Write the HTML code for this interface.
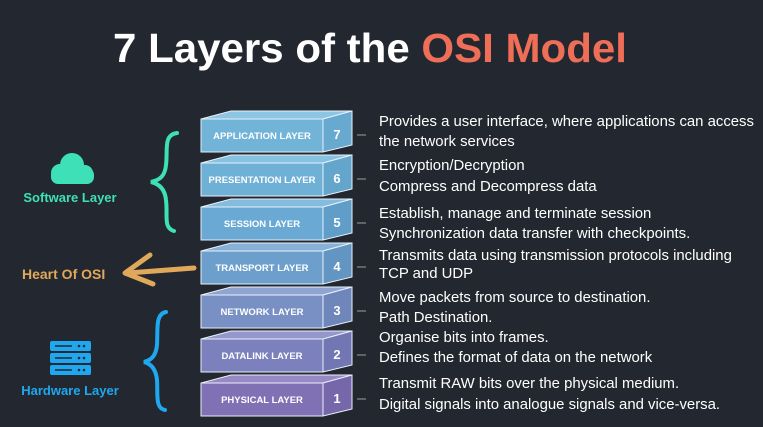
<!DOCTYPE html>
<html><head><meta charset="utf-8"><style>
html,body{margin:0;padding:0;background:#23272f;}
svg{display:block}
</style></head><body>
<svg width="763" height="427" viewBox="0 0 763 427" xmlns="http://www.w3.org/2000/svg" font-family="Liberation Sans, sans-serif">
<rect width="763" height="427" fill="#23272f"/>
<text x="113" y="62" textLength="514" lengthAdjust="spacingAndGlyphs" font-size="41" font-weight="bold" fill="#fff">7 Layers of  the <tspan fill="#ee6e57">OSI Model</tspan></text>

<g font-weight="bold" font-size="9.5" fill="#fff">
<g>
<polygon points="201,119 231,111 352,111 323,119" fill="#8cc6e4" stroke="#e8f0f8"/>
<rect x="201" y="119" width="122" height="33" fill="#72b4d8" stroke="#e8f0f8"/>
<polygon points="323,119 352,111 352,145 323,152" fill="#68a9cf" stroke="#e8f0f8"/>
<text x="262" y="139" text-anchor="middle">APPLICATION LAYER</text>
<text x="337" y="139" text-anchor="middle" font-size="13">7</text>
</g>
<g transform="translate(0,44)">
<polygon points="201,119 231,111 352,111 323,119" fill="#88c2e2" stroke="#e8f0f8"/>
<rect x="201" y="119" width="122" height="33" fill="#6eb0d6" stroke="#e8f0f8"/>
<polygon points="323,119 352,111 352,145 323,152" fill="#64a5cc" stroke="#e8f0f8"/>
<text x="262" y="139" text-anchor="middle">PRESENTATION LAYER</text>
<text x="337" y="139" text-anchor="middle" font-size="13">6</text>
</g>
<g transform="translate(0,88)">
<polygon points="201,119 231,111 352,111 323,119" fill="#84bce0" stroke="#e8f0f8"/>
<rect x="201" y="119" width="122" height="33" fill="#6aa9d3" stroke="#e8f0f8"/>
<polygon points="323,119 352,111 352,145 323,152" fill="#609ec9" stroke="#e8f0f8"/>
<text x="262" y="139" text-anchor="middle">SESSION LAYER</text>
<text x="337" y="139" text-anchor="middle" font-size="13">5</text>
</g>
<g transform="translate(0,132)">
<polygon points="201,119 231,111 352,111 323,119" fill="#86b2da" stroke="#e8f0f8"/>
<rect x="201" y="119" width="122" height="33" fill="#6d9fcc" stroke="#e8f0f8"/>
<polygon points="323,119 352,111 352,145 323,152" fill="#6395c2" stroke="#e8f0f8"/>
<text x="262" y="139" text-anchor="middle">TRANSPORT LAYER</text>
<text x="337" y="139" text-anchor="middle" font-size="13">4</text>
</g>
<g transform="translate(0,176)">
<polygon points="201,119 231,111 352,111 323,119" fill="#90a4d2" stroke="#e8f0f8"/>
<rect x="201" y="119" width="122" height="33" fill="#7890c4" stroke="#e8f0f8"/>
<polygon points="323,119 352,111 352,145 323,152" fill="#6e86ba" stroke="#e8f0f8"/>
<text x="262" y="139" text-anchor="middle">NETWORK LAYER</text>
<text x="337" y="139" text-anchor="middle" font-size="13">3</text>
</g>
<g transform="translate(0,220)">
<polygon points="201,119 231,111 352,111 323,119" fill="#9496cc" stroke="#e8f0f8"/>
<rect x="201" y="119" width="122" height="33" fill="#7c80bc" stroke="#e8f0f8"/>
<polygon points="323,119 352,111 352,145 323,152" fill="#7276b2" stroke="#e8f0f8"/>
<text x="262" y="139" text-anchor="middle">DATALINK LAYER</text>
<text x="337" y="139" text-anchor="middle" font-size="13">2</text>
</g>
<g transform="translate(0,264)">
<polygon points="201,119 231,111 352,111 323,119" fill="#9888c6" stroke="#e8f0f8"/>
<rect x="201" y="119" width="122" height="33" fill="#8070b4" stroke="#e8f0f8"/>
<polygon points="323,119 352,111 352,145 323,152" fill="#7666aa" stroke="#e8f0f8"/>
<text x="262" y="139" text-anchor="middle">PHYSICAL LAYER</text>
<text x="337" y="139" text-anchor="middle" font-size="13">1</text>
</g>
</g>

<g stroke="#777" stroke-width="1.5">
<line x1="357" y1="135" x2="366" y2="135"/>
<line x1="357" y1="179" x2="366" y2="179"/>
<line x1="357" y1="223" x2="366" y2="223"/>
<line x1="357" y1="267" x2="366" y2="267"/>
<line x1="357" y1="311" x2="366" y2="311"/>
<line x1="357" y1="355" x2="366" y2="355"/>
<line x1="357" y1="399" x2="366" y2="399"/>
</g>

<g font-size="14.9" fill="#fff">
<text x="379" y="126">Provides a user interface, where applications can access</text>
<text x="379" y="146">the network services</text>
<text x="379" y="170">Encryption/Decryption</text>
<text x="379" y="191">Compress and Decompress data</text>
<text x="379" y="218">Establish, manage and terminate session</text>
<text x="379" y="238">Synchronization data transfer with checkpoints.</text>
<text x="379" y="260">Transmits data using transmission protocols including</text>
<text x="379" y="278">TCP and UDP</text>
<text x="379" y="302">Move packets from source to destination.</text>
<text x="379" y="322">Path Destination.</text>
<text x="379" y="342">Organise bits into frames.</text>
<text x="379" y="362">Defines the format of data on the network</text>
<text x="379" y="388">Transmit RAW bits over the physical medium.</text>
<text x="379" y="409">Digital signals into analogue signals and vice-versa.</text>
</g>

<g fill="#3ee0b8">
<circle cx="72" cy="165" r="12"/>
<circle cx="60" cy="173" r="9"/>
<circle cx="85" cy="173" r="8"/>
<rect x="51" y="168" width="43" height="16" rx="7"/>
</g>
<text x="70" y="202" text-anchor="middle" font-size="13" font-weight="bold" fill="#3ee0b8">Software Layer</text>
<path d="M177,133 C163,135 168,150 166,165 C165,176 160,180 151,182 C160,184 165,190 166,200 C168,215 163,228 174,231" fill="none" stroke="#3ee0b8" stroke-width="4" stroke-linecap="round"/>

<text x="22" y="279" font-size="14" font-weight="bold" fill="#e0a85a">Heart Of OSI</text>
<path d="M194,268 L128,273" stroke="#e0a85a" stroke-width="5" stroke-linecap="round" fill="none"/>
<path d="M150,255 L125,273 L153,284" stroke="#e0a85a" stroke-width="5" stroke-linecap="round" stroke-linejoin="round" fill="none"/>

<g fill="#1fa8f0">
<rect x="50" y="341" width="41" height="10" rx="2"/>
<rect x="50" y="353" width="41" height="10" rx="2"/>
<rect x="50" y="365" width="41" height="10" rx="2"/>
</g>
<g stroke="#23272f" stroke-width="1.6">
<line x1="55" y1="346" x2="72" y2="346"/><line x1="55" y1="358" x2="72" y2="358"/><line x1="55" y1="370" x2="72" y2="370"/>
</g>
<g fill="#23272f"><circle cx="79" cy="346" r="1.3"/><circle cx="84" cy="346" r="1.3"/><circle cx="79" cy="358" r="1.3"/><circle cx="84" cy="358" r="1.3"/><circle cx="79" cy="370" r="1.3"/><circle cx="84" cy="370" r="1.3"/></g>
<text x="70" y="395" text-anchor="middle" font-size="13" font-weight="bold" fill="#1fa8f0">Hardware Layer</text>
<path d="M166,312 C155,314 158,330 157,345 C156,355 152,360 144,362 C152,364 156,370 157,380 C158,395 155,408 165,410" fill="none" stroke="#1fa8f0" stroke-width="4" stroke-linecap="round"/>
</svg>
</body></html>
